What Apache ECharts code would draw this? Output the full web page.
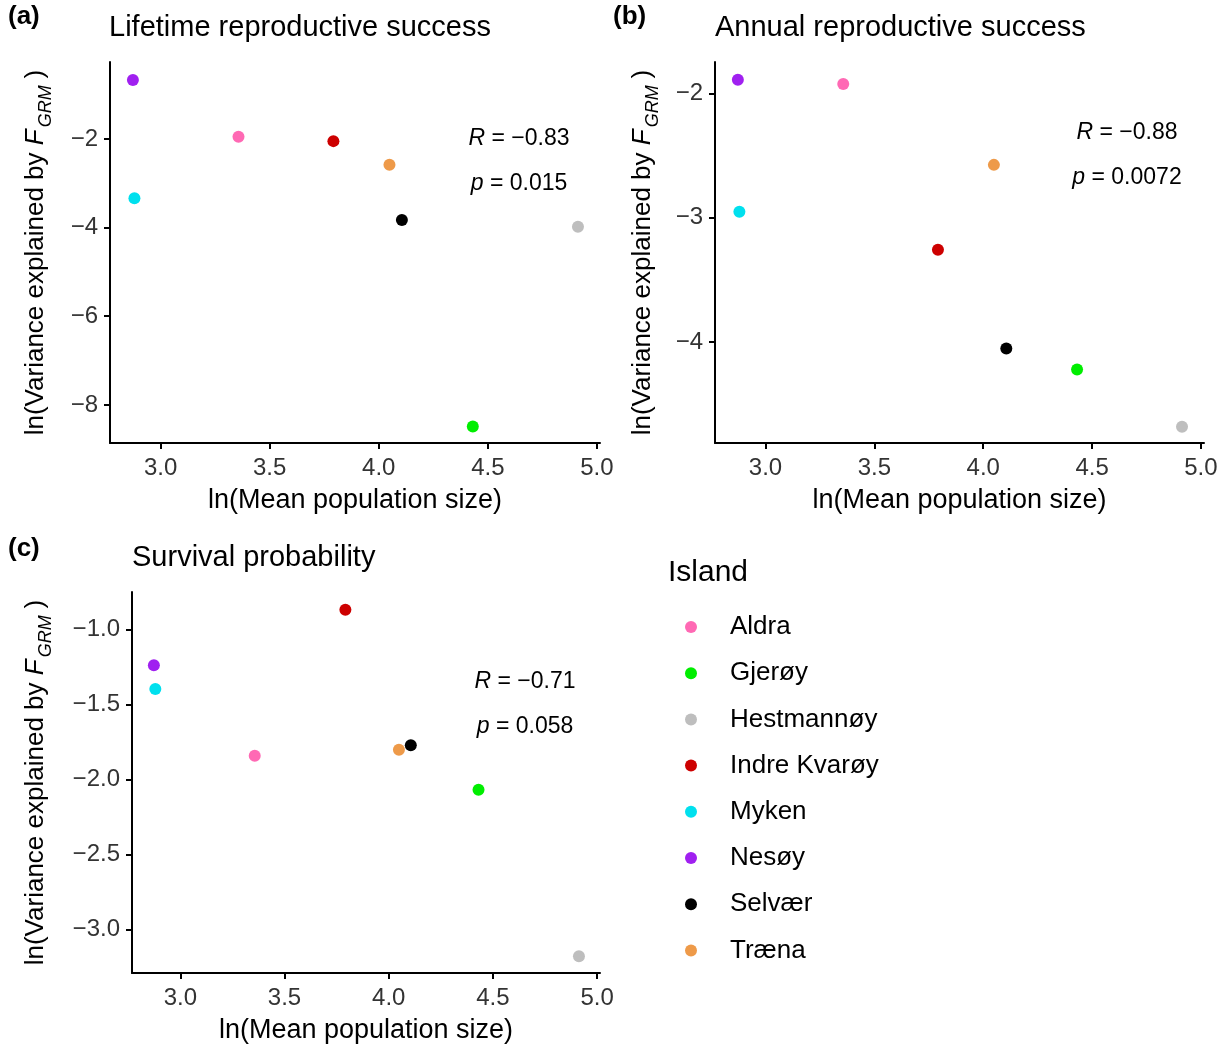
<!DOCTYPE html>
<html>
<head>
<meta charset="utf-8">
<script src="https://cdn.jsdelivr.net/npm/echarts@6/dist/echarts.min.js"></script>
<style>html,body{margin:0;padding:0;background:#fff;}#c{width:1231px;height:1047px;}</style>
</head>
<body>
<div id="c"></div>
<script>
// ---- data ----
const islands = ['Aldra', 'Gjerøy', 'Hestmannøy', 'Indre Kvarøy', 'Myken', 'Nesøy', 'Selvær', 'Træna'];
const islandColors = ['#FF69B4', '#00EE00', '#BEBEBE', '#CD0000', '#00E0EE', '#A020F0', '#000000', '#EE9A49'];
const lnMeanPopSize = [3.357, 4.431, 4.913, 3.792, 2.880, 2.873, 4.106, 4.049];
const lifetimeRS = [-1.95, -8.49, -3.98, -2.05, -3.34, -0.67, -3.83, -2.585];
const annualRS = [-1.924, -4.22, -4.68, -3.257, -2.95, -1.89, -4.05, -2.574];
const survival = [-1.84, -2.067, -3.178, -0.867, -1.395, -1.238, -1.77, -1.80];
const panelTags = ['(a)', '(b)', '(c)'];
const panelTitles = ['Lifetime reproductive success', 'Annual reproductive success', 'Survival probability'];
const rValues = ['−0.83', '−0.88', '−0.71'];
const pValues = ['0.015', '0.0072', '0.058'];
const xTicks = [3.0, 3.5, 4.0, 4.5, 5.0];
const yTicksA = [-8, -6, -4, -2];
const yTicksB = [-4, -3, -2];
const yTicksC = [-3.0, -2.5, -2.0, -1.5, -1.0];

// ---- layout ----
const FONT = '"Liberation Sans", Arial, sans-serif';
const panels = [
  { ys: lifetimeRS, yTicks: yTicksA, ymin: -8.86, ymax: -0.265, dec: 0,
    grid: { left: 110, top: 62, width: 490, height: 381 }, nameGap: 55,
    tag: [8, 4], title: [109, 13], ann: [519, 139] },
  { ys: annualRS, yTicks: yTicksB, ymin: -4.81, ymax: -1.747, dec: 0,
    grid: { left: 715, top: 62, width: 489, height: 381 }, nameGap: 53,
    tag: [613, 4], title: [715, 13], ann: [1127, 133] },
  { ys: survival, yTicks: yTicksC, ymin: -3.289, ymax: -0.749, dec: 1,
    grid: { left: 132, top: 592, width: 468, height: 381 }, nameGap: 77,
    tag: [8, 536], title: [132, 543], ann: [525, 682] }
];

function fmt(v, d) {
  const s = Math.abs(v).toFixed(d);
  return (v < 0 ? '−' : '') + s;
}

const grids = [], xAxes = [], yAxes = [], series = [], titles = [], graphics = [];
panels.forEach((p, k) => {
  grids.push(p.grid);
  xAxes.push({
    type: 'value', gridIndex: k, min: 2.768, max: 5.014,
    name: 'ln(Mean population size)', nameLocation: 'middle', nameGap: 44,
    nameTextStyle: { fontFamily: FONT, fontSize: 27, color: '#000' },
    axisLine: { lineStyle: { color: '#000', width: 2 } },
    axisTick: { show: true, length: 6, lineStyle: { color: '#000', width: 2 }, customValues: xTicks },
    axisLabel: { customValues: xTicks, formatter: v => Number(v).toFixed(1), fontFamily: FONT, fontSize: 24, color: '#333', margin: 13 },
    splitLine: { show: false }
  });
  yAxes.push({
    type: 'value', gridIndex: k, min: p.ymin, max: p.ymax,
    name: '{n|ln(Variance explained by }{i|F}{s|GRM}{n|)}', nameLocation: 'middle', nameGap: p.nameGap, nameRotate: 90,
    nameTextStyle: {
      fontFamily: FONT, fontSize: 26, color: '#000',
      rich: {
        n: { fontFamily: FONT, fontSize: 26, color: '#000', verticalAlign: 'bottom', padding: [0, 0, 6, 0] },
        i: { fontFamily: FONT, fontSize: 26, color: '#000', fontStyle: 'italic', verticalAlign: 'bottom', padding: [0, 2, 6, 0] },
        s: { fontFamily: FONT, fontSize: 18, color: '#000', fontStyle: 'italic', verticalAlign: 'bottom', padding: [0, 7, 0, 0] }
      }
    },
    axisLine: { lineStyle: { color: '#000', width: 2 } },
    axisTick: { show: true, length: 6, lineStyle: { color: '#000', width: 2 }, customValues: p.yTicks },
    axisLabel: { customValues: p.yTicks, formatter: v => fmt(Number(v), p.dec), fontFamily: FONT, fontSize: 24, color: '#333', margin: 12 },
    splitLine: { show: false }
  });
  islands.forEach((name, i) => {
    series.push({
      type: 'scatter', name: name, xAxisIndex: k, yAxisIndex: k,
      symbol: 'circle', symbolSize: 12,
      itemStyle: { color: islandColors[i], opacity: 1 },
      data: [[lnMeanPopSize[i], p.ys[i]]]
    });
  });
  titles.push({ text: panelTags[k], left: p.tag[0], top: p.tag[1], padding: 0,
    textStyle: { fontFamily: FONT, fontSize: 26, fontWeight: 'bold', color: '#000' } });
  titles.push({ text: panelTitles[k], left: p.title[0], top: p.title[1], padding: 0,
    textStyle: { fontFamily: FONT, fontSize: 29, fontWeight: 'normal', color: '#000' } });
  const annStyle = { fontFamily: FONT, fontSize: 23, fill: '#000', align: 'center', verticalAlign: 'middle' };
  const italic = { i: { fontFamily: FONT, fontSize: 23, fontStyle: 'italic', fill: '#000' } };
  graphics.push({ type: 'text', x: p.ann[0], y: p.ann[1],
    style: Object.assign({ text: '{i|R} = ' + rValues[k], rich: italic }, annStyle) });
  graphics.push({ type: 'text', x: p.ann[0], y: p.ann[1] + 45,
    style: Object.assign({ text: '{i|p} = ' + pValues[k], rich: italic }, annStyle) });
});

titles.push({ text: 'Island', left: 668, top: 558, padding: 0,
  textStyle: { fontFamily: FONT, fontSize: 30, fontWeight: 'normal', color: '#000' } });

const chart = echarts.init(document.getElementById('c'), null, { renderer: 'canvas' });
chart.setOption({
  animation: false,
  backgroundColor: '#fff',
  title: titles,
  grid: grids,
  xAxis: xAxes,
  yAxis: yAxes,
  legend: {
    data: islands.map(n => ({ name: n, icon: 'circle' })),
    orient: 'vertical', left: 685, top: 612, padding: 0,
    itemWidth: 12, itemHeight: 12, itemGap: 16.2,
    selectedMode: false,
    textStyle: { fontFamily: FONT, fontSize: 26, color: '#000', lineHeight: 30, padding: [0, 0, 0, 28] }
  },
  graphic: graphics,
  series: series
});
</script>
</body>
</html>
